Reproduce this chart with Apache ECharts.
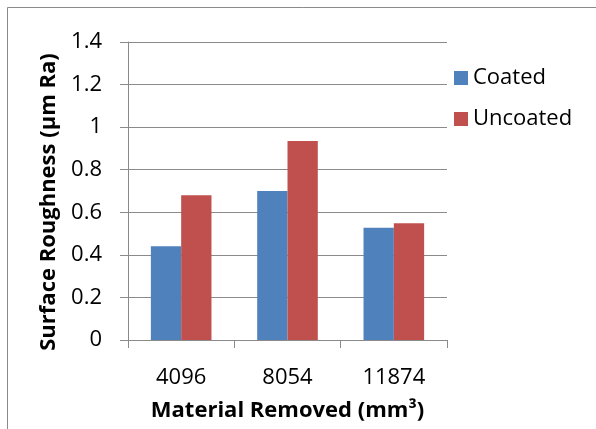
<!DOCTYPE html>
<html>
<head>
<meta charset="utf-8">
<script src="https://cdn.jsdelivr.net/npm/echarts@6/dist/echarts.min.js"></script>
<style>
html,body{margin:0;padding:0;background:#fff;}
#chart{width:596px;height:429px;}
</style>
</head>
<body>
<div id="chart"></div>
<script>
var categories = ['4096', '8054', '11874'];
var coated = [0.44, 0.70, 0.527];
var uncoated = [0.68, 0.935, 0.548];
var seriesNames = ['Coated', 'Uncoated'];
var yTicks = { min: 0, max: 1.4, interval: 0.2 };

var FONT = '"Open Sans", "Noto Sans", sans-serif';
var chart = echarts.init(document.getElementById('chart'), null, { renderer: 'canvas' });
chart.setOption({
  animation: false,
  backgroundColor: '#ffffff',
  textStyle: { fontFamily: FONT },
  graphic: [{
    type: 'rect',
    shape: { x: 7.5, y: 7.5, width: 600, height: 430 },
    style: { fill: 'none', stroke: '#8a8a8a', lineWidth: 1 },
    silent: true
  }],
  grid: { left: 128, top: 42, right: 149, bottom: 89, containLabel: false },
  legend: {
    orient: 'vertical',
    left: 449,
    top: 62,
    itemWidth: 14,
    itemHeight: 14,
    itemGap: 19,
    icon: 'rect',
    textStyle: { fontFamily: FONT, fontSize: 22, color: '#000', lineHeight: 22 },
    data: seriesNames
  },
  xAxis: {
    type: 'category',
    data: categories,
    name: 'Material Removed (mm³)',
    nameLocation: 'middle',
    nameGap: 60,
    nameTextStyle: { fontFamily: FONT, fontSize: 22, fontWeight: 'bold', color: '#000' },
    axisLine: { show: true, lineStyle: { color: '#8a8a8a', width: 1 } },
    axisTick: { show: true, length: 8, lineStyle: { color: '#8a8a8a' } },
    axisLabel: { fontFamily: FONT, fontSize: 22, color: '#000', margin: 27 },
    splitLine: { show: false }
  },
  yAxis: {
    type: 'value',
    min: yTicks.min,
    max: yTicks.max,
    interval: yTicks.interval,
    name: 'Surface Roughness (µm Ra)',
    nameLocation: 'middle',
    nameGap: 68,
    nameTextStyle: { fontFamily: FONT, fontSize: 22, fontWeight: 'bold', color: '#000', padding: [0, 22, 0, 0] },
    axisLine: { show: true, lineStyle: { color: '#8a8a8a', width: 1 } },
    axisTick: { show: true, length: 8, lineStyle: { color: '#8a8a8a' } },
    axisLabel: {
      fontFamily: FONT, fontSize: 22, color: '#000', margin: 26,
      formatter: function (v) { return String(Math.round(v * 10) / 10); }
    },
    splitLine: { show: true, lineStyle: { color: '#8a8a8a', width: 1 } }
  },
  series: [
    {
      name: seriesNames[0], type: 'bar', data: coated,
      barGap: '0%', barCategoryGap: '43%',
      itemStyle: { color: '#4F81BD' }
    },
    {
      name: seriesNames[1], type: 'bar', data: uncoated,
      barGap: '0%', barCategoryGap: '43%',
      itemStyle: { color: '#C0504D' }
    }
  ]
});
</script>
</body>
</html>
